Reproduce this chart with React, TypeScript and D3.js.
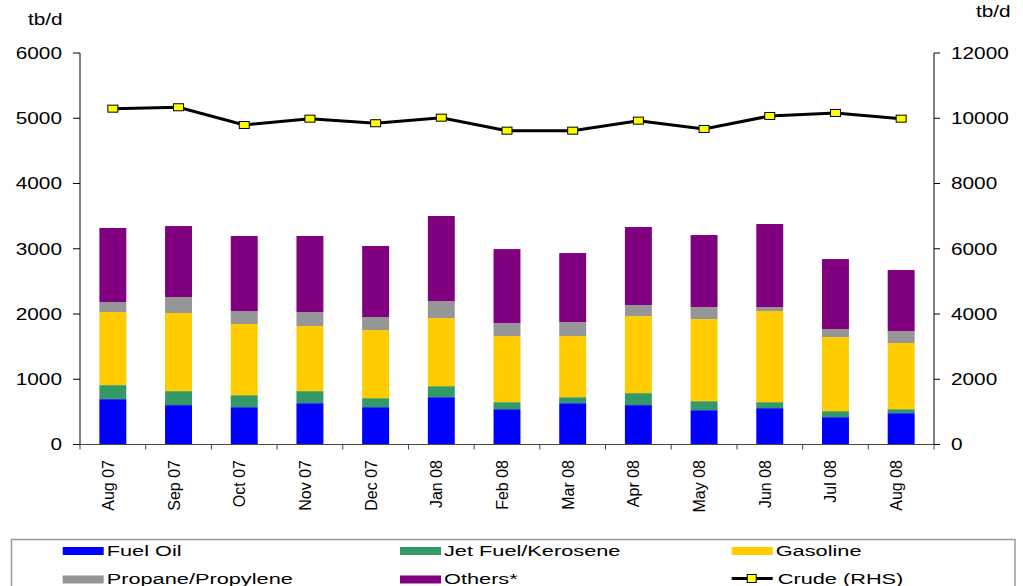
import * as d3 from "d3";

// Categories and values (tb/d)
const months = [
  "Aug 07", "Sep 07", "Oct 07", "Nov 07", "Dec 07", "Jan 08", "Feb 08",
  "Mar 08", "Apr 08", "May 08", "Jun 08", "Jul 08", "Aug 08",
];
const fuelOil = [695, 604, 572, 633, 572, 725, 541, 633, 604, 526, 557, 419, 480];
const jetFuel = [215, 214, 184, 185, 138, 169, 108, 92, 183, 138, 92, 92, 61];
const gasoline = [1119, 1197, 1090, 997, 1043, 1043, 1012, 936, 1181, 1258, 1396, 1135, 1014];
const propane = [154, 244, 199, 214, 200, 261, 199, 215, 169, 184, 61, 123, 183];
const others = [1135, 1089, 1150, 1166, 1089, 1304, 1135, 1058, 1196, 1104, 1273, 1073, 936];
const crude = [10294, 10337, 9794, 9988, 9847, 10018, 9620, 9620, 9926, 9672, 10070, 10162, 9988];

const seriesKeys = ["fuelOil", "jetFuel", "gasoline", "propane", "others"];
const seriesNames = ["Fuel Oil", "Jet Fuel/Kerosene", "Gasoline", "Propane/Propylene", "Others*"];
const seriesColors = ["#0000FF", "#339966", "#FFCC00", "#969696", "#800080"];

const leftTicks = [0, 1000, 2000, 3000, 4000, 5000, 6000];
const rightTicks = [0, 2000, 4000, 6000, 8000, 10000, 12000];

const W = 1023;
const H = 586;
const FONT = "'Liberation Sans', Arial, sans-serif";
// the original picture is stretched sideways, so is its text
const SX = 1.3;

export default function App() {
  const margin = { top: 53, right: 89, bottom: 141.5, left: 80 };
  const x0 = margin.left;
  const x1 = W - margin.right;
  const yBase = H - margin.bottom;

  const x = d3.scaleBand<string>().domain(months).range([x0, x1]).padding(0);
  const step = x.step();
  const barW = step * 0.41;
  const cx = (m: string) => (x(m) || 0) + step / 2;

  const y = d3.scaleLinear().domain([0, 6000]).range([yBase, margin.top]);
  const y2 = d3.scaleLinear().domain([0, 12000]).range([yBase, margin.top]);

  const rows = months.map((m, i) => ({
    month: m,
    fuelOil: fuelOil[i],
    jetFuel: jetFuel[i],
    gasoline: gasoline[i],
    propane: propane[i],
    others: others[i],
  }));
  const stacked = d3.stack<any>().keys(seriesKeys)(rows);

  const line = d3
    .line<number>()
    .x((_, i) => cx(months[i]))
    .y((d) => y2(d));

  // Legend layout
  const legCols = [62.7, 400, 731.7];
  const legRows = [547, 575.5];
  const legendItems = seriesNames.map((name, i) => ({
    name,
    color: seriesColors[i],
    col: i % 3,
    row: Math.floor(i / 3),
  }));

  return (
    <div style={{ position: "fixed", left: 0, top: 0 }}>
      <svg width={W} height={H} style={{ display: "block", background: "#fff" }} fontFamily={FONT}>
        {/* Unit labels */}
        <text transform={`translate(28,25) scale(${SX},1)`} fontSize={16} fill="#000">
          tb/d
        </text>
        <text transform={`translate(976,17) scale(${SX},1)`} fontSize={16} fill="#000">
          tb/d
        </text>

        {/* Bars */}
        {stacked.map((s, si) => (
          <g key={s.key} fill={seriesColors[si]}>
            {s.map((d, i) => (
              <rect
                key={i}
                x={cx(months[i]) - barW / 2}
                y={y(d[1])}
                width={barW}
                height={y(d[0]) - y(d[1])}
              />
            ))}
          </g>
        ))}

        {/* Left axis */}
        <line x1={x0} x2={x0} y1={margin.top} y2={yBase} stroke="#000" />
        {leftTicks.map((t) => (
          <g key={t}>
            <line x1={x0 - 7} x2={x0} y1={y(t)} y2={y(t)} stroke="#000" />
            <text
              transform={`translate(62,${y(t)}) scale(${SX},1)`}
              dy="0.36em"
              textAnchor="end"
              fontSize={16}
              fill="#000"
            >
              {t}
            </text>
          </g>
        ))}

        {/* Right axis */}
        <line x1={x1} x2={x1} y1={margin.top} y2={yBase} stroke="#000" />
        {rightTicks.map((t) => (
          <g key={t}>
            <line x1={x1} x2={x1 + 6} y1={y2(t)} y2={y2(t)} stroke="#000" />
            <text
              transform={`translate(951,${y2(t)}) scale(${SX},1)`}
              dy="0.36em"
              fontSize={16}
              fill="#000"
            >
              {t}
            </text>
          </g>
        ))}

        {/* X axis */}
        <line x1={x0} x2={x1} y1={yBase} y2={yBase} stroke="#444" />
        {months.map((m) => (
          <line key={m} x1={x(m)} x2={x(m)} y1={yBase} y2={yBase + 5} stroke="#444" />
        ))}
        <line x1={x1} x2={x1} y1={yBase} y2={yBase + 5} stroke="#444" />
        {months.map((m) => (
          <text
            key={m}
            transform={`translate(${cx(m) + 1},460) rotate(-90)`}
            textAnchor="end"
            fontSize={16}
            fill="#000"
          >
            {m}
          </text>
        ))}

        {/* Crude line */}
        <path d={line(crude) || ""} fill="none" stroke="#000" strokeWidth={3} />
        {crude.map((v, i) => (
          <rect
            key={i}
            x={cx(months[i]) - 5}
            y={y2(v) - 3.5}
            width={10}
            height={7}
            fill="#FFFF00"
            stroke="#000"
            strokeWidth={1}
          />
        ))}

        {/* Legend */}
        <rect x={11.5} y={539.5} width={1003.5} height={60} fill="#fff" stroke="#999" strokeWidth={1.5} />
        {legendItems.map((it) => (
          <g key={it.name}>
            <rect x={legCols[it.col]} y={legRows[it.row]} width={41} height={8} fill={it.color} />
            <text
              transform={`translate(${legCols[it.col] + 44},${legRows[it.row] + 8.5}) scale(1.45,1)`}
              fontSize={15}
              fill="#000"
            >
              {it.name}
            </text>
          </g>
        ))}
        <line x1={legCols[2]} x2={legCols[2] + 41} y1={legRows[1] + 3} y2={legRows[1] + 3} stroke="#000" strokeWidth={3} />
        <rect x={legCols[2] + 15.5} y={legRows[1] - 1} width={9} height={8} fill="#FFFF00" stroke="#000" />
        <text
          transform={`translate(${legCols[2] + 46},${legRows[1] + 8.5}) scale(1.45,1)`}
          fontSize={15}
          fill="#000"
        >
          Crude (RHS)
        </text>
      </svg>
    </div>
  );
}
